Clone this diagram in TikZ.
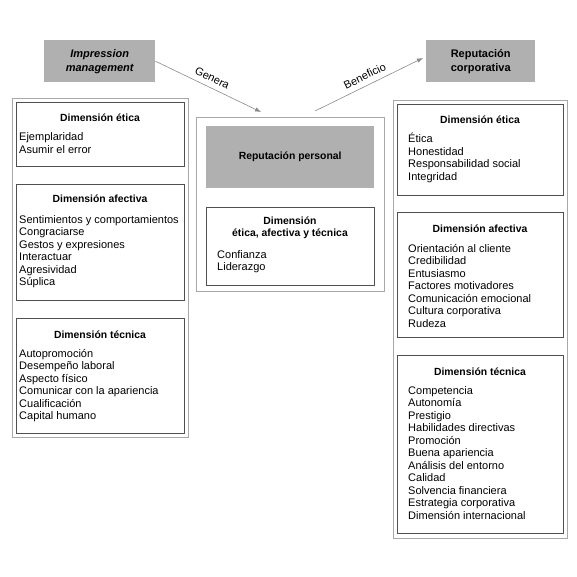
\documentclass[tikz,border=0pt]{standalone}
\usepackage{fontspec}
\setmainfont{Liberation Sans}
\usetikzlibrary{positioning, calc, arrows.meta}

\begin{document}
\begin{tikzpicture}[
  x=1pt, y=-1pt,
  font=\fontsize{11}{12.5}\selectfont,
  >={Latex[length=6pt,width=4.5pt]},
  outerFrame/.style={draw=cFrame, line width=1pt, anchor=north west, inner sep=0pt},
  dimBox/.style={draw=cBox, line width=0.9pt, anchor=north west, inner sep=0pt},
  greyBox/.style={fill=cGrey, anchor=north west, inner sep=0pt, align=center,
                  font=\fontsize{11}{14}\selectfont\bfseries},
  dimHead/.style={font=\fontsize{10.4}{12}\selectfont\bfseries, anchor=base, inner sep=0pt},
  listItem/.style={anchor=base west, inner sep=0pt},
  link/.style={->, draw=cArrow, line width=0.6pt},
]
\definecolor{cFrame}{HTML}{A8A8A8}   % light outer frames
\definecolor{cBox}{HTML}{505050}     % dimension boxes
\definecolor{cGrey}{HTML}{B0B0B0}    % grey title boxes
\definecolor{cArrow}{HTML}{8A8A8A}   % connectors

\useasboundingbox (0,0) rectangle (576,577);

% =====================================================================
% Top title boxes
% =====================================================================
\node[greyBox, minimum width=111, minimum height=42] (impMgmt) at (44,40)
  {\itshape Impression\\\itshape management};
\node[greyBox, minimum width=109, minimum height=42] (repCorp) at (426,40)
  {Reputación\\corporativa};

% =====================================================================
% Left column -- impression management dimensions
% =====================================================================
\node[outerFrame, minimum width=176, minimum height=339] (leftFrame) at (12,98) {};
\node[dimBox, minimum width=168, minimum height=64]  (lEtica) at (16,102) {};
\node[dimBox, minimum width=168, minimum height=116] (lAfec)  at (16,184) {};
\node[dimBox, minimum width=168, minimum height=115] (lTec)   at (16,318) {};

\node[dimHead] (lEticaH) at (100,122) {Dimensión ética};
\foreach \t [count=\i from 0] in {Ejemplaridad, Asumir el error}
  \node[listItem] (lEtica-\i) at (19,141+12.5*\i) {\t};

\node[dimHead] (lAfecH) at (100,203) {Dimensión afectiva};
\foreach \t [count=\i from 0] in {Sentimientos y comportamientos, Congraciarse,
    Gestos y expresiones, Interactuar, Agresividad, Súplica}
  \node[listItem] (lAfec-\i) at (19,223+12.5*\i) {\t};

\node[dimHead] (lTecH) at (100,338) {Dimensión técnica};
\foreach \t [count=\i from 0] in {Autopromoción, Desempeño laboral, Aspecto físico,
    Comunicar con la apariencia, Cualificación, Capital humano}
  \node[listItem] (lTec-\i) at (19,357+12.5*\i) {\t};

% =====================================================================
% Middle column -- personal reputation
% =====================================================================
\node[outerFrame, minimum width=188, minimum height=174] (midFrame) at (196,117) {};
\node[greyBox, minimum width=168, minimum height=62,
      font=\fontsize{10.4}{12}\selectfont\bfseries] (repPers) at (206,126)
  {Reputación personal};
\node[dimBox, minimum width=168, minimum height=78] (mDim) at (206,207) {};

\node[dimHead, align=center, anchor=center] (mDimH) at (290,228)
  {Dimensión\\ética, afectiva y técnica};
\foreach \t [count=\i from 0] in {Confianza, Liderazgo}
  \node[listItem] (mDim-\i) at (217,258+12.5*\i) {\t};

% =====================================================================
% Right column -- corporate reputation dimensions
% =====================================================================
\node[outerFrame, minimum width=174, minimum height=438] (rightFrame) at (393,100) {};
\node[dimBox, minimum width=166, minimum height=91]  (rEtica) at (397,104) {};
\node[dimBox, minimum width=166, minimum height=125] (rAfec)  at (397,212) {};
\node[dimBox, minimum width=166, minimum height=178] (rTec)   at (397,355) {};

\node[dimHead] (rEticaH) at (480,124) {Dimensión ética};
\foreach \t [count=\i from 0] in {Ética, Honestidad, Responsabilidad social, Integridad}
  \node[listItem] (rEtica-\i) at (408,143+12.5*\i) {\t};

\node[dimHead] (rAfecH) at (480,232) {Dimensión afectiva};
\foreach \t [count=\i from 0] in {Orientación al cliente, Credibilidad, Entusiasmo,
    Factores motivadores, Comunicación emocional, Cultura corporativa, Rudeza}
  \node[listItem] (rAfec-\i) at (408,252+12.5*\i) {\t};

\node[dimHead] (rTecH) at (480,375) {Dimensión técnica};
\foreach \t [count=\i from 0] in {Competencia, Autonomía, Prestigio,
    Habilidades directivas, Promoción, Buena apariencia, Análisis del entorno,
    Calidad, Solvencia financiera, Estrategia corporativa, Dimensión internacional}
  \node[listItem] (rTec-\i) at (408,394+12.5*\i) {\t};

% =====================================================================
% Connectors
% =====================================================================
\coordinate (genEnd)   at (261,112);
\coordinate (benStart) at (315,111);
\coordinate (benEnd)   at (423,58);

\draw[link] (impMgmt.east) -- (genEnd)
  node[midway, sloped, above=2pt, text=black] (genLbl) {Genera};
\draw[link] (benStart) -- (benEnd)
  node[midway, sloped, above=2pt, text=black] (benLbl) {Beneficio};

\end{tikzpicture}
\end{document}
